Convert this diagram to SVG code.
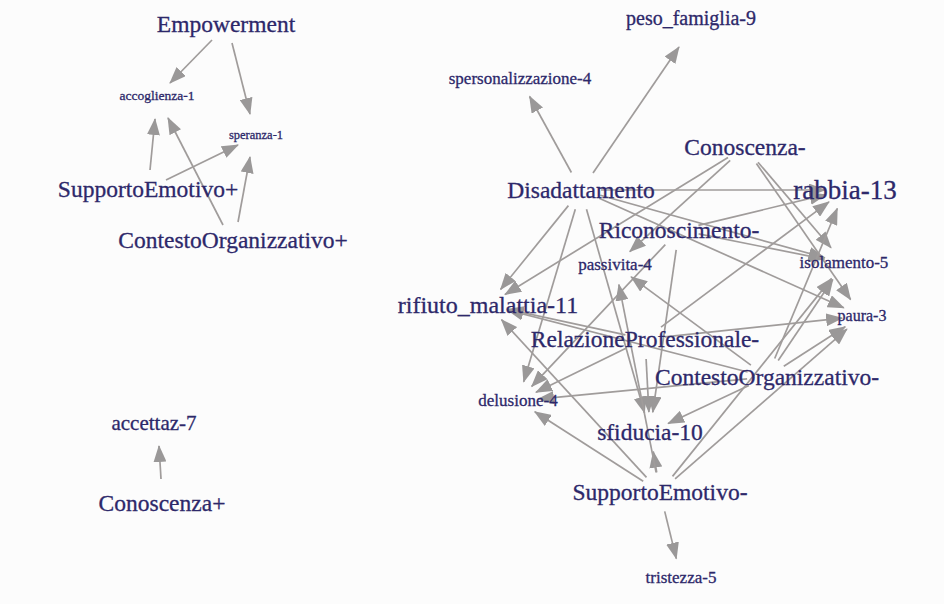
<svg xmlns="http://www.w3.org/2000/svg" width="944" height="604" viewBox="0 0 944 604">
<defs>
<marker id="ah" markerUnits="userSpaceOnUse" markerWidth="17" markerHeight="13" refX="16" refY="6.5" orient="auto">
<path d="M0,0 L17,6.5 L0,13 z" fill="#9a9898"/>
</marker>
<style>
.e{stroke:#a09c9b;stroke-width:1.7;fill:none;marker-end:url(#ah)}
text{font-family:"Liberation Serif","Times New Roman",serif;fill:#2d286a;stroke:#2d286a;stroke-width:0.3;text-anchor:middle}
.f{font-size:23.5px}
.s{font-size:17px}
</style>
</defs>
<rect width="944" height="604" fill="#fcfcfc"/>
<g id="connectors">
<line class="e" x1="212" y1="40" x2="170" y2="83"/>
<line class="e" x1="232" y1="43" x2="250" y2="114"/>
<line class="e" x1="150" y1="170" x2="155" y2="119"/>
<line class="e" x1="166" y1="180" x2="238" y2="145"/>
<line class="e" x1="223" y1="225" x2="168" y2="118"/>
<line class="e" x1="238" y1="222" x2="250" y2="157"/>
<line class="e" x1="161" y1="479" x2="159" y2="446"/>
<line class="e" x1="571.4" y1="172.5" x2="529.6" y2="96.5"/>
<line class="e" x1="593" y1="173" x2="679" y2="47"/>
<line class="e" x1="601" y1="190" x2="825" y2="190"/>
<line class="e" x1="600.3" y1="195.3" x2="824.7" y2="257.7"/>
<line class="e" x1="599.2" y1="198.2" x2="843.8" y2="307.8"/>
<line class="e" x1="568.4" y1="205.6" x2="500.6" y2="289.4"/>
<line class="e" x1="575.3" y1="209.2" x2="523.7" y2="381.8"/>
<line class="e" x1="586.5" y1="209.2" x2="644.5" y2="412.8"/>
<line class="e" x1="728" y1="157.5" x2="505" y2="294.5"/>
<line class="e" x1="730.2" y1="160.4" x2="629.8" y2="251.6"/>
<line class="e" x1="758" y1="162.2" x2="831" y2="247.8"/>
<line class="e" x1="756.4" y1="163.4" x2="850.6" y2="299.6"/>
<line class="e" x1="698.4" y1="225.3" x2="825.6" y2="194.7"/>
<line class="e" x1="698.6" y1="233.9" x2="824.4" y2="259.1"/>
<line class="e" x1="665.3" y1="244.6" x2="531.7" y2="386.4"/>
<line class="e" x1="676.2" y1="249.8" x2="652.8" y2="412.2"/>
<line class="e" x1="661" y1="327.1" x2="829" y2="201.9"/>
<line class="e" x1="664.9" y1="336.9" x2="842.1" y2="318.1"/>
<line class="e" x1="625.4" y1="334.8" x2="507.6" y2="309.2"/>
<line class="e" x1="627" y1="347.8" x2="536" y2="392.2"/>
<line class="e" x1="646.1" y1="359" x2="648.9" y2="412"/>
<line class="e" x1="774.7" y1="358.5" x2="837.3" y2="208.5"/>
<line class="e" x1="778.2" y1="360.4" x2="832.8" y2="279.6"/>
<line class="e" x1="783.8" y1="366.2" x2="845.2" y2="326.8"/>
<line class="e" x1="750.9" y1="365.1" x2="631.1" y2="276.9"/>
<line class="e" x1="747.1" y1="378.9" x2="537.9" y2="399.1"/>
<line class="e" x1="748.9" y1="385.5" x2="668.1" y2="423.5"/>
<line class="e" x1="747.6" y1="372" x2="507.4" y2="310"/>
<line class="e" x1="664.7" y1="511.4" x2="676.3" y2="558.6"/>
<line class="e" x1="656.7" y1="472.3" x2="653.3" y2="451.7"/>
<line class="e" x1="643.2" y1="481.2" x2="534.8" y2="411.8"/>
<line class="e" x1="646.5" y1="477.3" x2="501.5" y2="319.7"/>
<line class="e" x1="656.1" y1="472.4" x2="618.9" y2="284.6"/>
<line class="e" x1="672.5" y1="476.4" x2="831.5" y2="278.6"/>
<line class="e" x1="675.1" y1="478.9" x2="846.9" y2="329.1"/>
</g>
<g id="n-empowerment"><text class="f" x="226" y="32">Empowerment</text></g>
<g id="n-accoglienza"><text x="157" y="100" style="font-size:13.5px">accoglienza-1</text></g>
<g id="n-speranza"><text x="256" y="139" style="font-size:12.5px">speranza-1</text></g>
<g id="n-supportoemotivo-plus"><text class="f" x="148" y="197">SupportoEmotivo+</text></g>
<g id="n-contestoorganizzativo-plus"><text class="f" x="233" y="248">ContestoOrganizzativo+</text></g>
<g id="n-accettaz"><text x="154" y="430" style="font-size:21px">accettaz-7</text></g>
<g id="n-conoscenza-plus"><text class="f" x="162" y="511">Conoscenza+</text></g>
<g id="n-peso"><text x="691" y="25" style="font-size:20px">peso_famiglia-9</text></g>
<g id="n-spersonalizzazione"><text class="s" x="520" y="84">spersonalizzazione-4</text></g>
<g id="n-conoscenza-minus"><text class="f" x="745" y="155">Conoscenza-</text></g>
<g id="n-disadattamento"><text class="f" x="581" y="198">Disadattamento</text></g>
<g id="n-rabbia"><text x="845" y="199" style="font-size:27px">rabbia-13</text></g>
<g id="n-riconoscimento"><text class="f" x="679" y="238">Riconoscimento-</text></g>
<g id="n-passivita"><text class="s" x="615" y="270">passivita-4</text></g>
<g id="n-isolamento"><text class="s" x="844" y="268">isolamento-5</text></g>
<g id="n-rifiuto"><text x="488" y="313" style="font-size:24px">rifiuto_malattia-11</text></g>
<g id="n-paura"><text x="862" y="321" style="font-size:16px">paura-3</text></g>
<g id="n-relazione"><text class="f" x="645" y="347">RelazioneProfessionale-</text></g>
<g id="n-contestoorganizzativo-minus"><text class="f" x="767" y="385">ContestoOrganizzativo-</text></g>
<g id="n-delusione"><text class="s" x="518" y="406">delusione-4</text></g>
<g id="n-sfiducia"><text class="f" x="650" y="440">sfiducia-10</text></g>
<g id="n-supportoemotivo-minus"><text class="f" x="660" y="500">SupportoEmotivo-</text></g>
<g id="n-tristezza"><text class="s" x="681" y="583">tristezza-5</text></g>
</svg>
